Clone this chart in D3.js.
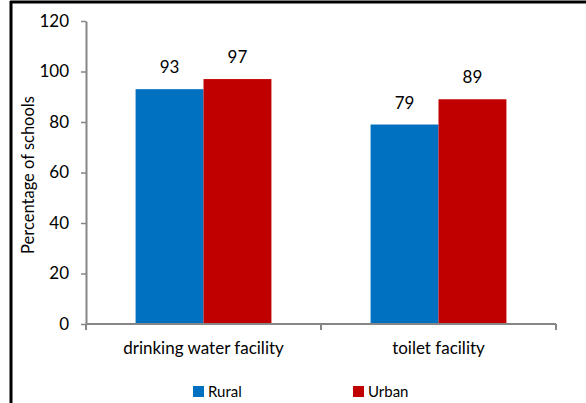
<!DOCTYPE html>
<html><head><meta charset="utf-8">
<script src="https://cdn.jsdelivr.net/npm/d3@7"></script>
<style>
html,body{margin:0;padding:0;background:#fff;}
text{font-family:Lato,"Open Sans",sans-serif;fill:#000;}
</style></head>
<body><svg id="c" width="586" height="403"></svg>
<script>
const categories = ["drinking water facility", "toilet facility"];
const seriesNames = ["Rural", "Urban"];
const rural = [93, 79];
const urban = [97, 89];
const yTicks = [0, 20, 40, 60, 80, 100, 120];
const colors = ["#0070C0", "#C00000"];

const FS = "17px";
const svg = d3.select("#c");
// outer frame (left and top edges visible)
svg.append("line").attr("x1",11).attr("x2",11).attr("y1",1).attr("y2",403).attr("stroke","#000").attr("stroke-width",3);
svg.append("line").attr("x1",10).attr("x2",586).attr("y1",2).attr("y2",2).attr("stroke","#000").attr("stroke-width",3);

const x0 = d3.scaleBand().domain(categories).range([86, 556]).paddingInner(0).paddingOuter(0);
const x1 = d3.scaleBand().domain(seriesNames).range([0, x0.bandwidth()]).paddingInner(0).paddingOuter(0.73);
const y = d3.scaleLinear().domain([0, 120]).range([324, 21]);
const axisColor = "#868686";

const data = categories.map((c, i) => ({cat: c, vals: [{s: "Rural", v: rural[i]}, {s: "Urban", v: urban[i]}]}));

const g = svg.append("g");
const groups = g.selectAll("g.cat").data(data).join("g").attr("transform", d => `translate(${x0(d.cat)},0)`);
groups.selectAll("rect").data(d => d.vals).join("rect")
  .attr("x", d => x1(d.s)).attr("width", x1.bandwidth())
  .attr("y", d => y(d.v)).attr("height", d => y(0) - y(d.v))
  .attr("fill", (d, i) => colors[i]);
groups.selectAll("text.val").data(d => d.vals).join("text").attr("class","val")
  .attr("x", d => x1(d.s) + x1.bandwidth()/2).attr("y", d => y(d.v) - 16)
  .attr("text-anchor","middle").style("font-size",FS).text(d => d.v);

// y axis
const ya = svg.append("g").attr("transform","translate(86,0)")
  .call(d3.axisLeft(y).tickValues(yTicks).tickSize(5).tickPadding(12).tickSizeOuter(0));
ya.select(".domain").attr("stroke", axisColor).attr("stroke-width",2);
ya.selectAll(".tick line").attr("stroke", axisColor).attr("stroke-width",1.5);
ya.selectAll(".tick text").style("font-size",FS).style("font-family","Lato,sans-serif").attr("fill","#000");

// x axis
const xa = svg.append("g").attr("transform","translate(0,324)")
  .call(d3.axisBottom(x0).tickSize(0).tickPadding(18));
xa.select(".domain").attr("stroke", axisColor).attr("stroke-width",2).attr("d","M86,0H556");
xa.selectAll(".tick text").style("font-size",FS).style("font-family","Lato,sans-serif").attr("fill","#000");
// category boundary ticks
const bounds = [86, ...categories.map(c => x0(c) + x0.bandwidth())];
svg.append("g").selectAll("line").data(bounds).join("line")
  .attr("x1", d => d).attr("x2", d => d).attr("y1", 324).attr("y2", 330)
  .attr("stroke", axisColor).attr("stroke-width",2);

// y label
svg.append("text").attr("transform","translate(34,175) rotate(-90)")
  .attr("text-anchor","middle").style("font-size","16.5px").text("Percentage of schools");

// legend
const legX = [193, 353];
const leg = svg.append("g").selectAll("g").data(seriesNames).join("g")
  .attr("transform", (d, i) => `translate(${legX[i]},386)`);
leg.append("rect").attr("width", 11).attr("height", 11).attr("fill", (d, i) => colors[i]);
leg.append("text").attr("x", 15).attr("y", 11).style("font-size","15px").text(d => d);
</script></body></html>
